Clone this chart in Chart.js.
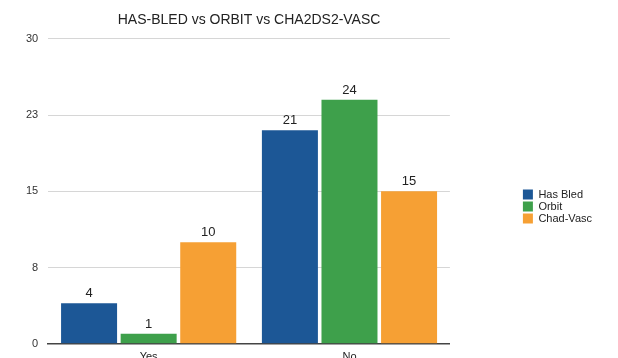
<!DOCTYPE html>
<html>
<head>
<meta charset="utf-8">
<script src="https://cdn.jsdelivr.net/npm/chart.js@4"></script>
<style>
  html, body { margin: 0; padding: 0; background: #fff; overflow: hidden; }
  #wrap { width: 618px; height: 371px; }
</style>
</head>
<body>
<div id="wrap"><canvas id="chart"></canvas></div>
<script>
// score comparison, counts per group
const categories = ['Yes', 'No'];
const hasBled = [4, 21];
const orbit = [1, 24];
const chadVasc = [10, 15];
const seriesNames = ['Has Bled', 'Orbit', 'Chad-Vasc'];
const yTicks = [0, 7.5, 15, 22.5, 30];

const colors = ['#1c5796', '#3ea04b', '#f6a034'];
const FONT = '"Liberation Sans", Arial, sans-serif';

// prints each bar's value just above it
const valueLabels = {
  id: 'valueLabels',
  afterDatasetsDraw(chart) {
    const ctx = chart.ctx;
    ctx.save();
    ctx.font = '13px ' + FONT;
    ctx.fillStyle = '#222';
    ctx.textAlign = 'center';
    ctx.textBaseline = 'bottom';
    chart.data.datasets.forEach((ds, i) => {
      chart.getDatasetMeta(i).data.forEach((bar, j) => {
        ctx.fillText(ds.data[j], bar.x, bar.y - 3);
      });
    });
    ctx.restore();
  }
};

// leave a wide gap between plot and legend, and sit the legend a bit lower
const LEGEND_GAP = 72;
const LEGEND_DROP = 19;
const legendSpacing = {
  id: 'legendSpacing',
  afterInit(chart) {
    const legend = chart.legend;
    const fit = legend.fit.bind(legend);
    legend.fit = function () {
      fit();
      this.width += LEGEND_GAP;
    };
  },
  afterLayout(chart) {
    const legend = chart.legend;
    legend.left += LEGEND_GAP;
    legend.top += LEGEND_DROP;
    legend.bottom += LEGEND_DROP;
  }
};

new Chart(document.getElementById('chart'), {
  type: 'bar',
  data: {
    labels: categories,
    datasets: [hasBled, orbit, chadVasc].map((d, i) => ({
      label: seriesNames[i],
      data: d,
      backgroundColor: colors[i],
      borderWidth: 0,
      categoryPercentage: 0.89,
      barPercentage: 0.94,
    })),
  },
  options: {
    responsive: true,
    maintainAspectRatio: false,
    animation: false,
    layout: { padding: { left: 16, right: 16, top: 4, bottom: 0 } },
    plugins: {
      title: {
        display: true,
        fullSize: false,
        text: 'HAS-BLED vs ORBIT vs CHA2DS2-VASC',
        color: '#222',
        font: { family: FONT, size: 14, weight: 'normal' },
        padding: { top: 8, bottom: 10 },
      },
      legend: {
        position: 'right',
        labels: {
          boxWidth: 10,
          boxHeight: 10,
          padding: 1,
          color: '#222',
          font: { family: FONT, size: 11 },
        },
      },
      tooltip: { enabled: false },
    },
    scales: {
      x: {
        grid: { display: false, drawTicks: false },
        border: { color: '#444', width: 1.5 },
        ticks: {
          color: '#222',
          padding: 7,
          font: { family: FONT, size: 11 },
        },
      },
      y: {
        min: 0,
        max: 30,
        afterBuildTicks(axis) {
          axis.ticks = yTicks.map(v => ({ value: v }));
        },
        grid: { color: '#d6d6d6', drawTicks: false },
        border: { display: false },
        ticks: {
          color: '#333',
          padding: 10,
          font: { family: FONT, size: 11 },
          callback: v => Math.round(v),
        },
      },
    },
  },
  plugins: [valueLabels, legendSpacing],
});
</script>
</body>
</html>
